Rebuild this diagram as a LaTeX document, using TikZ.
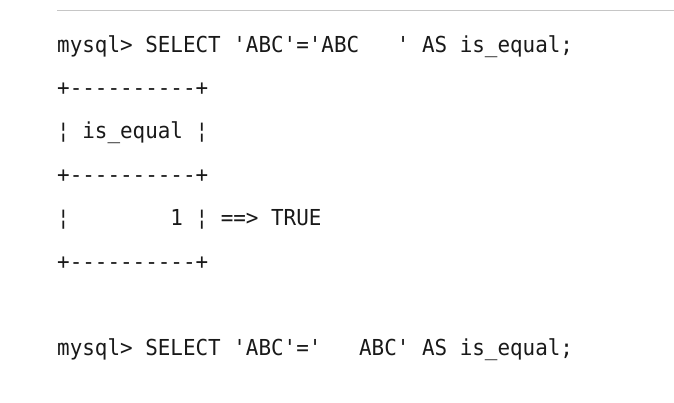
\documentclass[tikz,border=0pt]{standalone}
\usepackage{fontspec}
\setmonofont[FakeStretch=0.95]{DejaVu Sans Mono}
\tikzset{>=stealth}
\tikzset{sqlline/.style={anchor=base west, inner sep=0pt, text=black!90, font=\ttfamily\fontsize{22}{26}\selectfont}}

\begin{document}
\begin{tikzpicture}[x=1pt,y=-1pt]
\useasboundingbox (0,0) rectangle (674,402);
\coordinate (ruleL) at (57,10.5);
\coordinate (ruleR) at (674,10.5);
\draw[gray!45, line width=1pt] (ruleL) -- (ruleR);
\node[sqlline] (query1) at (57,52) {mysql> SELECT 'ABC'='ABC~~~' AS is\_equal;};
\foreach \i/\y in {1/95.4, 2/182.2, 3/269}
  \node[sqlline] (sep\i) at (57,\y) {+----------+};
\node[sqlline] (head) at (57,138.8) {¦ is\_equal ¦};
\node[sqlline] (row) at (57,225.6) {¦~~~~~~~~1 ¦ ==> TRUE};
\node[sqlline] (query2) at (57,355.8) {mysql> SELECT 'ABC'='~~~ABC' AS is\_equal;};
\end{tikzpicture}
\end{document}
